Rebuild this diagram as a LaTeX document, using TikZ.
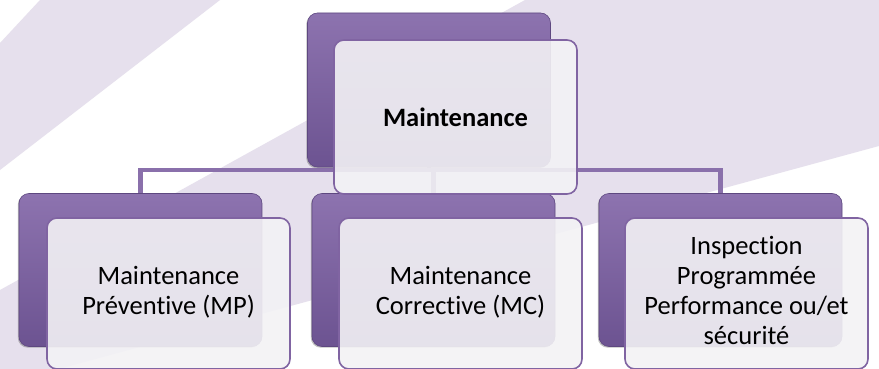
\documentclass[tikz,border=0pt]{standalone}
\usepackage{fontspec}
\setmainfont{Carlito}[Ligatures=NoCommon]
\usetikzlibrary{shadows}
\pgfdeclarelayer{background}
\pgfsetlayers{background,main}
\definecolor{bglav}{HTML}{E6E0ED}
\definecolor{ptop}{HTML}{8D73AF}
\definecolor{pbot}{HTML}{6C5391}
\definecolor{pedge}{HTML}{5E4880}
\definecolor{pline}{HTML}{8A70AB}
\definecolor{fborder}{HTML}{8064A2}
\definecolor{ffill}{HTML}{F3F2F5}
\tikzset{
  backbox/.style={rectangle, rounded corners=10pt, minimum width=243pt, minimum height=154pt,
    top color=ptop, bottom color=pbot, draw=pedge, line width=0.6pt,
    drop shadow={shadow xshift=-1.2pt, shadow yshift=-1.2pt, opacity=0.35, fill=black!70}},
  frontbox/.style={rectangle, rounded corners=10pt, minimum width=243pt, minimum height=154pt,
    fill=ffill, fill opacity=0.9, text opacity=1, draw=fborder, draw opacity=1, line width=1.6pt,
    align=center, text=black, font=\fontsize{26.5}{30}\selectfont, inner sep=0pt},
  conn/.style={draw=pline, line width=4.5pt}
}
\begin{document}
\begin{tikzpicture}[x=1pt,y=-1pt]
\useasboundingbox (0,0) rectangle (879,369);
% back boxes
\node[backbox] (tb) at (429,90) {};
\node[backbox, minimum height=153pt] (lb) at (140.5,270) {};
\node[backbox, minimum height=153pt] (mb) at (433.5,270) {};
\node[backbox, minimum height=153pt] (rb) at (720.5,270) {};
\coordinate (hub) at (433.5,170);
\begin{pgfonlayer}{background}
\begin{scope}
\clip (0,0) rectangle (879,369);
\fill[white] (0,0) rectangle (879,369);
\fill[bglav] (0,43) -- (40,0) -- (220,0) -- (0,170) -- cycle;
\fill[bglav] (0,290) -- (525,0) -- (879,0) -- (879,146) -- (0,385) -- cycle;
\end{scope}
\draw[conn] (lb.north) |- (hub) -| (rb.north);
\draw[conn] (mb.north) -- (hub);
\draw[conn] (tb.south) -- (tb.south |- hub);
\end{pgfonlayer}
% front boxes
\node[frontbox, yshift=-1pt] (tf) at (455.5,116) {\bfseries Maintenance};
\node[frontbox, minimum height=151pt] (lf) at (168.5,293.5) {\raisebox{-3pt}{\begin{tabular}{@{}c@{}}Maintenance\\Préventive (MP)\end{tabular}}};
\node[frontbox, minimum height=151pt] (mf) at (460.5,293.5) {\raisebox{-3pt}{\begin{tabular}{@{}c@{}}Maintenance\\Corrective (MC)\end{tabular}}};
\node[frontbox, minimum height=151pt] (rf) at (746.5,293.5) {\raisebox{-2pt}{\begin{tabular}{@{}c@{}}Inspection\\Programmée\\Performance ou/et\\sécurité\end{tabular}}};
\end{tikzpicture}
\end{document}
